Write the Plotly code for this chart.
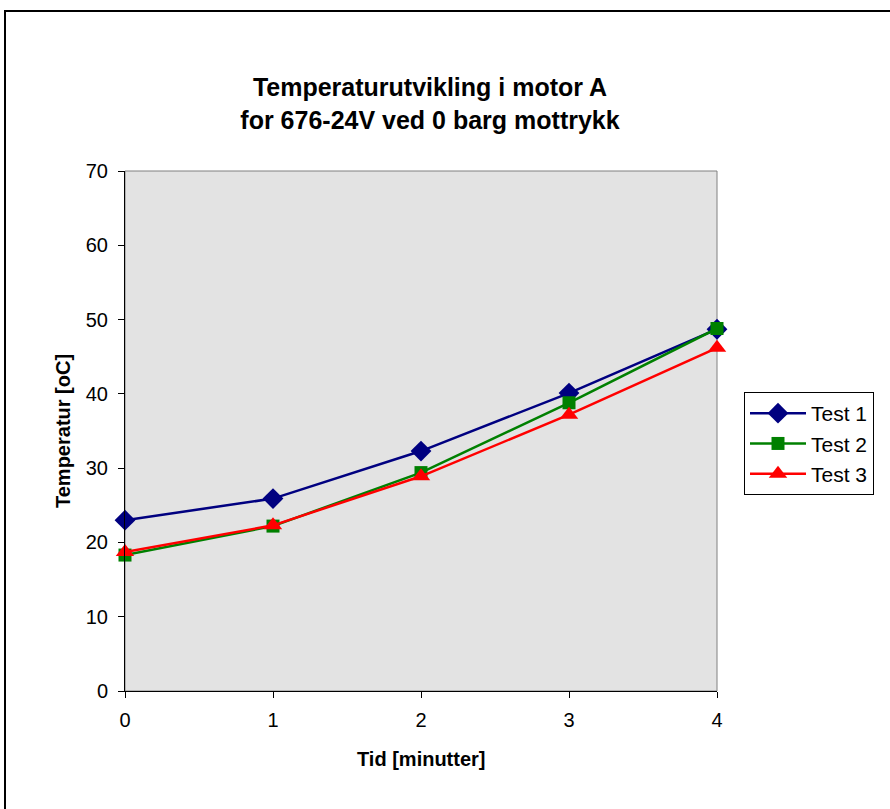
import plotly.graph_objects as go

minutes = [0, 1, 2, 3, 4]
test1 = [23.0, 25.9, 32.3, 40.1, 48.7]
test2 = [18.3, 22.2, 29.4, 38.8, 48.8]
test3 = [18.7, 22.3, 28.9, 37.2, 46.2]
x_ticks = [0, 1, 2, 3, 4]
y_ticks = [0, 10, 20, 30, 40, 50, 60, 70]

FONT = "Liberation Sans, Arial, sans-serif"

fig = go.Figure()
series = [
    ("Test 1", test1, "#000080", "diamond", 16),
    ("Test 2", test2, "#008000", "square", 13),
    ("Test 3", test3, "#FF0000", "triangle-up", 16),
]
for name, vals, col, sym, sz in series:
    fig.add_trace(go.Scatter(
        x=minutes, y=vals, name=name, mode="lines+markers",
        line=dict(color=col, width=2.5),
        marker=dict(color=col, symbol=sym, size=sz, line=dict(width=0)),
        cliponaxis=False,
    ))

fig.update_layout(
    width=890, height=809,
    margin=dict(l=125, r=173, t=171, b=118),
    paper_bgcolor="white",
    plot_bgcolor="#E3E3E3",
    font=dict(family=FONT, size=20, color="black"),
    title=dict(
        text="<b>Temperaturutvikling i motor A<br>for 676-24V ved 0 barg mottrykk</b>",
        x=430 / 890, xanchor="center", xref="container",
        y=1 - 96 / 809, yanchor="middle", yref="container",
        font=dict(family=FONT, size=25, color="black"),
    ),
    showlegend=True,
    legend=dict(
        x=(744 - 125) / 592, xanchor="left",
        y=(691 - 392) / 520, yanchor="top",
        bgcolor="white", bordercolor="black", borderwidth=1,
        font=dict(family=FONT, size=21, color="black"),
        itemwidth=56,
        tracegroupgap=0,
    ),
    xaxis=dict(
        range=[0, 4], tickvals=x_ticks, ticktext=[str(v) for v in x_ticks],
        showgrid=False, zeroline=False,
        showline=True, linecolor="black", linewidth=1,
        ticks="outside", ticklen=6, tickcolor="black",
        ticklabelstandoff=5,
        tickfont=dict(family=FONT, size=20),
    ),
    yaxis=dict(
        range=[0, 70], tickvals=y_ticks, ticktext=[str(v) for v in y_ticks],
        showgrid=False, zeroline=False,
        showline=True, linecolor="black", linewidth=1,
        ticks="outside", ticklen=6, tickcolor="black",
        ticklabelstandoff=6,
        tickfont=dict(family=FONT, size=20),
    ),
    annotations=[
        dict(text="<b>Tid [minutter]</b>", xref="paper", yref="paper",
             x=(421 - 125) / 592, y=(691 - 759) / 520, xanchor="center", yanchor="middle",
             showarrow=False, font=dict(family=FONT, size=20, color="black")),
        dict(text="<b>Temperatur [oC]</b>", xref="paper", yref="paper",
             x=(63 - 125) / 592, y=(691 - 431) / 520, xanchor="center", yanchor="middle",
             textangle=-90, showarrow=False, font=dict(family=FONT, size=20, color="black")),
    ],
    shapes=[
        dict(type="rect", xref="paper", yref="paper", x0=0, y0=0, x1=1, y1=1,
             line=dict(color="#808080", width=1), layer="below"),
        dict(type="rect", xref="paper", yref="paper",
             x0=(5 - 125) / 592, y0=(691 - 820) / 520, x1=(900 - 125) / 592, y1=(691 - 11) / 520,
             line=dict(color="black", width=2), layer="above"),
    ],
)

fig.write_html("out.html")
